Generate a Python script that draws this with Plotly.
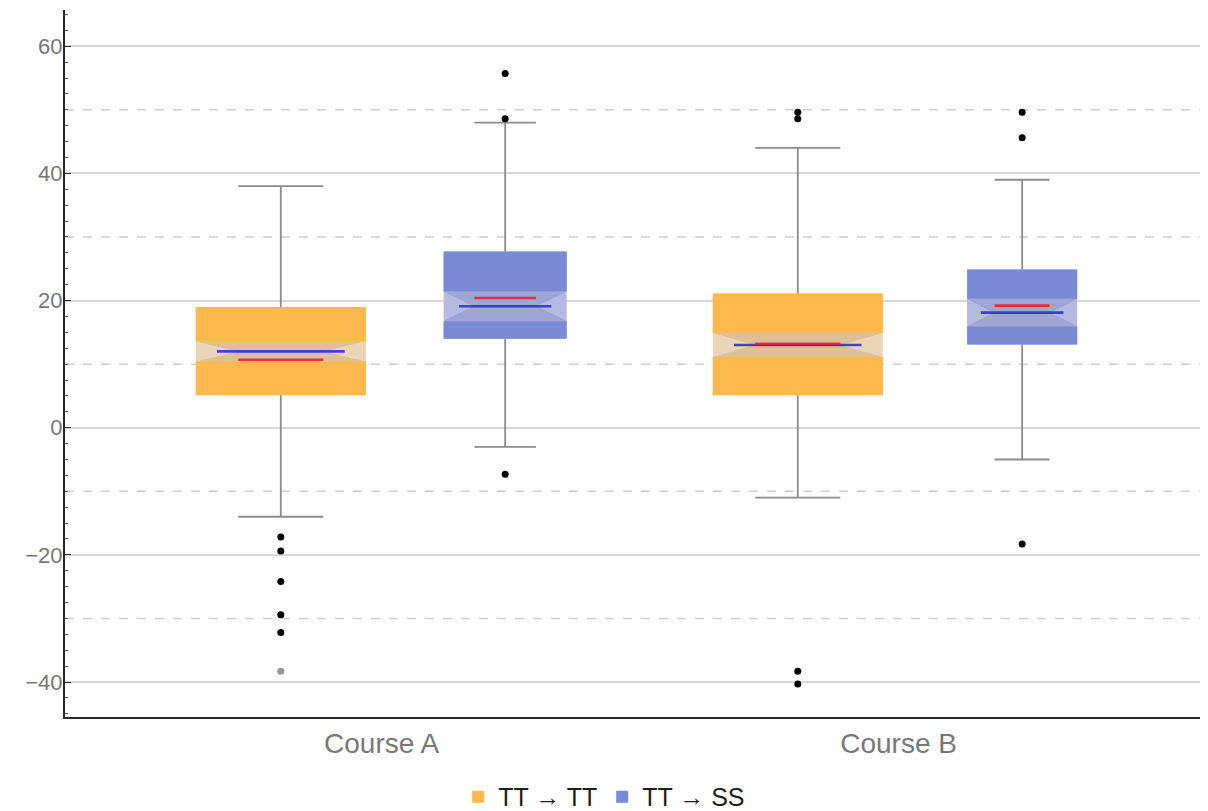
import plotly.graph_objects as go

# ---------------- data ----------------
groups = ["Course A", "Course B"]
series = ["TT → TT", "TT → SS"]

# TT -> TT
tt_q1 = [5.1, 5.1]
tt_median = [12.0, 13.0]
tt_q3 = [19.0, 21.1]
tt_mean = [10.7, 13.2]
tt_lower = [-14.0, -11.0]
tt_upper = [38.0, 44.0]
tt_notch = [1.63, 1.93]
tt_outliers = [[-17.2, -19.4, -24.2, -29.4, -32.2], [49.6, 48.6, -38.3, -40.3]]
tt_far_outliers = [[-38.3], []]

# TT -> SS
ss_q1 = [14.0, 13.1]
ss_median = [19.1, 18.1]
ss_q3 = [27.7, 24.9]
ss_mean = [20.4, 19.2]
ss_lower = [-3.0, -5.0]
ss_upper = [48.0, 39.0]
ss_notch = [2.36, 2.2]
ss_outliers = [[55.7, 48.6, -7.3], [49.6, 45.6, -18.3]]
ss_far_outliers = [[], []]

y_ticks = [-40, -20, 0, 20, 40, 60]
y_dashed = [-30, -10, 10, 30, 50]

# ---------------- style ----------------
group_pos = [1, 2]
label_shift = -0.022
offsets = [-0.217, 0.217]
widths = [[0.329, 0.329], [0.238, 0.213]]
main_colors = ["rgb(253,185,77)", "rgb(122,138,212)"]
band_colors = ["rgb(221,192,148)", "rgb(158,166,214)"]
cut_colors = ["rgb(234,214,182)", "rgb(180,186,224)"]
whisker_color = "rgb(140,140,140)"
median_color = "rgba(30,30,230,0.82)"
mean_color = "rgba(235,20,40,0.82)"

stats = [
    dict(q1=tt_q1, med=tt_median, q3=tt_q3, mean=tt_mean, lo=tt_lower, hi=tt_upper,
         notch=tt_notch, out=tt_outliers, far=tt_far_outliers),
    dict(q1=ss_q1, med=ss_median, q3=ss_q3, mean=ss_mean, lo=ss_lower, hi=ss_upper,
         notch=ss_notch, out=ss_outliers, far=ss_far_outliers),
]

fig = go.Figure()


def solid_box(x, lo, med, hi, w, color, **kw):
    return go.Box(
        x=[x], q1=[lo], median=[med], q3=[hi], lowerfence=[lo], upperfence=[hi],
        width=w, whiskerwidth=0, line=dict(color=color, width=0),
        fillcolor=color, **kw)


# whiskers (drawn first, hidden behind boxes)
for s, st in enumerate(stats):
    for g in range(len(groups)):
        x = group_pos[g] + offsets[s]
        w = widths[s][g]
        fig.add_trace(go.Box(
            x=[x], q1=[st["med"][g]], median=[st["med"][g]], q3=[st["med"][g]],
            lowerfence=[st["lo"][g]], upperfence=[st["hi"][g]],
            width=w * 0.5, whiskerwidth=1.0,
            line=dict(color=whisker_color, width=1.8),
            fillcolor="rgba(0,0,0,0)", showlegend=False, hoverinfo="skip",
        ))

# boxes: pale full rectangle (visible in the notch cut-outs), notched main box,
# and the lighter confidence band inside the notch
for s, st in enumerate(stats):
    for g in range(len(groups)):
        x = group_pos[g] + offsets[s]
        w = widths[s][g]
        q1, med, q3, n = st["q1"][g], st["med"][g], st["q3"][g], st["notch"][g]
        fig.add_trace(solid_box(x, q1, med, q3, w, cut_colors[s],
                                showlegend=False, hoverinfo="skip"))
        fig.add_trace(go.Box(
            x=[x], q1=[q1], median=[med], q3=[q3], lowerfence=[q1], upperfence=[q3],
            notched=True, notchspan=[n], notchwidth=0.25,
            width=w, whiskerwidth=0,
            line=dict(color=main_colors[s], width=0),
            fillcolor=main_colors[s], name=series[s], legendgroup=series[s],
            showlegend=(g == 0),
        ))
        fig.add_trace(go.Box(
            x=[x], q1=[med - n], median=[med], q3=[med + n],
            lowerfence=[med - n], upperfence=[med + n],
            notched=True, notchspan=[n], notchwidth=0.25,
            width=w, whiskerwidth=0,
            line=dict(color=band_colors[s], width=0),
            fillcolor=band_colors[s], showlegend=False, hoverinfo="skip",
        ))

# median lines (blue) and mean lines (red)
for s, st in enumerate(stats):
    for g in range(len(groups)):
        x = group_pos[g] + offsets[s]
        w = widths[s][g]
        for key, frac, col in (("med", 0.75, median_color), ("mean", 0.5, mean_color)):
            v = st[key][g]
            fig.add_trace(go.Box(
                x=[x], q1=[v], median=[v], q3=[v], lowerfence=[v], upperfence=[v],
                width=w * frac, whiskerwidth=0,
                line=dict(color=col, width=2.6),
                fillcolor="rgba(0,0,0,0)", showlegend=False, hoverinfo="skip",
            ))

# outliers
for s, st in enumerate(stats):
    for g in range(len(groups)):
        x = group_pos[g] + offsets[s]
        if st["out"][g]:
            fig.add_trace(go.Scatter(
                x=[x] * len(st["out"][g]), y=st["out"][g], mode="markers",
                marker=dict(color="black", size=7), showlegend=False,
            ))
        if st["far"][g]:
            fig.add_trace(go.Scatter(
                x=[x] * len(st["far"][g]), y=st["far"][g], mode="markers",
                marker=dict(color="rgb(150,150,150)", size=7), showlegend=False,
            ))

# dashed intermediate gridlines
for v in y_dashed:
    fig.add_shape(type="line", xref="paper", x0=0, x1=1, yref="y", y0=v, y1=v,
                  line=dict(color="rgb(205,205,205)", width=1.5, dash="dash"),
                  layer="below")

# the page body has an 8px margin, so the figure is sized/offset to compensate
fig.update_layout(
    width=1200, height=803,
    margin=dict(l=57, r=8, t=2, b=94, autoexpand=False),
    paper_bgcolor="white", plot_bgcolor="white",
    boxmode="overlay",
    font=dict(family="Liberation Sans, Arial, sans-serif", color="rgb(120,120,120)"),
    showlegend=True,
    legend=dict(orientation="h", x=0.475, xanchor="center", y=-0.113, yanchor="middle",
                font=dict(size=25, color="rgb(30,30,30)"), bgcolor="rgba(0,0,0,0)"),
    xaxis=dict(range=[0.3656, 2.561], tickvals=[p + label_shift for p in group_pos],
               ticktext=groups,
               showgrid=False, zeroline=False, showline=True, automargin=False,
               linecolor="rgb(40,40,40)", linewidth=2, ticks="",
               tickfont=dict(size=28, color="rgb(120,120,120)")),
    yaxis=dict(range=[-45.5, 65.7], tickvals=y_ticks, automargin=False,
               showgrid=True, gridcolor="rgb(215,215,215)", gridwidth=1.5,
               zeroline=False, showline=True, linecolor="rgb(40,40,40)", linewidth=2,
               ticks="inside", ticklen=6, tickcolor="rgb(40,40,40)",
               ticklabelstandoff=-4,
               minor=dict(dtick=2.5, ticks="inside", ticklen=3,
                          tickcolor="rgb(90,90,90)", showgrid=False),
               tickfont=dict(size=22, color="rgb(120,120,120)")),
)

fig.write_html("out.html")
